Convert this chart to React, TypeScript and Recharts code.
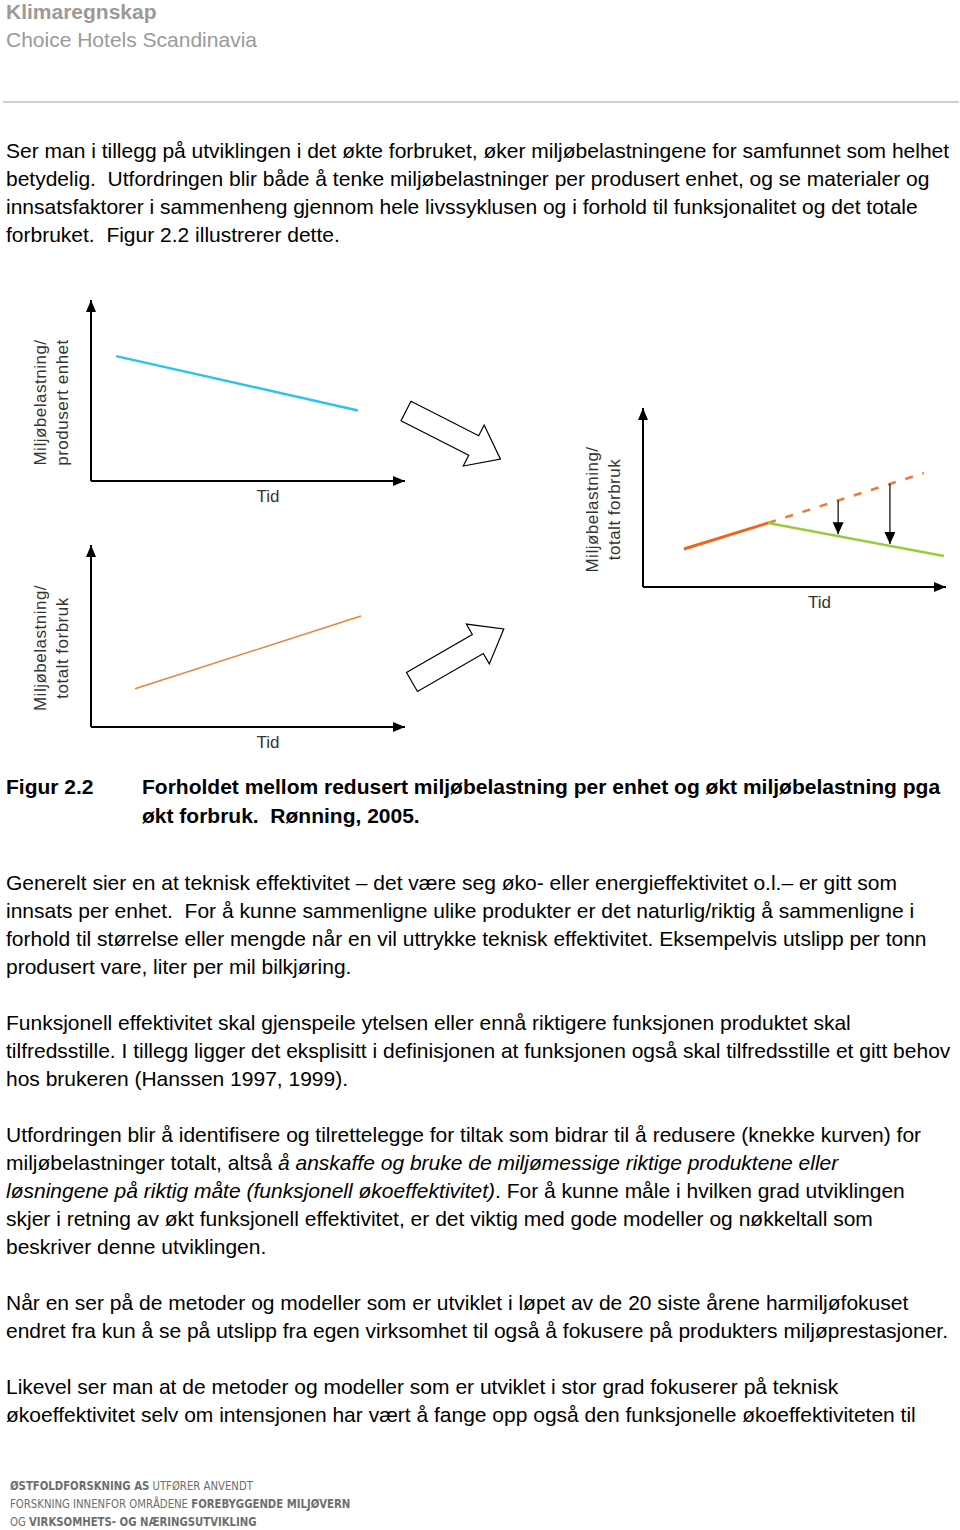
import React from 'react';
import { LineChart, Line, XAxis, YAxis, ReferenceLine } from 'recharts';

// chart 1: load per produced unit over time
const unitTime = [8, 85];
const unitLoad = [69, 39];

// chart 2: total load over time
const totalTime = [14, 86];
const totalLoad = [21, 61];

// chart 3: growth, break and reduced curve
const beforeTime = [13.5, 41.3];
const beforeLoad = [21.2, 35.8];
const afterTime = [41.3, 99.3];
const afterLoad = [35.8, 17.3];
const trendTime = [41.3, 92.7];
const trendLoad = [35.8, 63.7];
const gapTime = [64.4, 81.5];
const gapFrom = [48.3, 57.6];
const gapTo = [29.5, 24];

const toRows = (t: number[], v: number[]) => t.map((x, i) => ({ t: x, v: v[i] }));

const headerLines = ['Klimaregnskap', 'Choice Hotels Scandinavia'];

const introLines = [
  'Ser man i tillegg på utviklingen i det økte forbruket, øker miljøbelastningene for samfunnet som helhet',
  'betydelig.  Utfordringen blir både å tenke miljøbelastninger per produsert enhet, og se materialer og',
  'innsatsfaktorer i sammenheng gjennom hele livssyklusen og i forhold til funksjonalitet og det totale',
  'forbruket.  Figur 2.2 illustrerer dette.',
];

const para1 = [
  'Generelt sier en at teknisk effektivitet – det være seg øko- eller energieffektivitet o.l.– er gitt som',
  'innsats per enhet.  For å kunne sammenligne ulike produkter er det naturlig/riktig å sammenligne i',
  'forhold til størrelse eller mengde når en vil uttrykke teknisk effektivitet. Eksempelvis utslipp per tonn',
  'produsert vare, liter per mil bilkjøring.',
];
const para2 = [
  'Funksjonell effektivitet skal gjenspeile ytelsen eller ennå riktigere funksjonen produktet skal',
  'tilfredsstille. I tillegg ligger det eksplisitt i definisjonen at funksjonen også skal tilfredsstille et gitt behov',
  'hos brukeren (Hanssen 1997, 1999).',
];
const para4 = [
  'Når en ser på de metoder og modeller som er utviklet i løpet av de 20 siste årene harmiljøfokuset',
  'endret fra kun å se på utslipp fra egen virksomhet til også å fokusere på produkters miljøprestasjoner.',
];
const para5 = [
  'Likevel ser man at de metoder og modeller som er utviklet i stor grad fokuserer på teknisk',
  'økoeffektivitet selv om intensjonen har vært å fange opp også den funksjonelle økoeffektiviteten til',
];

const FONT = "'Liberation Sans', Arial, Helvetica, sans-serif";
const LABEL_FONT = "'Liberation Sans', Arial, sans-serif";

const TextLine = ({ top, left = 6, children, style }: any) => (
  <div
    style={{
      position: 'absolute',
      top,
      left,
      whiteSpace: 'pre',
      fontSize: 21,
      lineHeight: '28px',
      color: '#000',
      ...style,
    }}
  >
    {children}
  </div>
);

const yTitle = (lines: string[]) => (props: any) => {
  const vb = props.viewBox || { x: 0, y: 8, width: 70, height: 180 };
  const ax = vb.x + vb.width;
  const cy = vb.y + vb.height / 2 + 12;
  return (
    <g>
      {lines.map((s, i) => {
        const x = ax - 51 + i * 22;
        return (
          <text
            key={i}
            x={x}
            y={cy}
            transform={`rotate(-90 ${x} ${cy})`}
            textAnchor="middle"
            dominantBaseline="central"
            fontSize={17}
            fontFamily={LABEL_FONT}
            fill="#333"
            letterSpacing={0.5}
          >
            {s}
          </text>
        );
      })}
    </g>
  );
};

const axisStyle = { stroke: '#000', strokeWidth: 2 };

const MiniChart = ({ left, top, plotW, plotH, title, tidDx, children }: any) => (
  <div style={{ position: 'absolute', left, top }}>
    <LineChart
      width={70 + plotW + 8}
      height={8 + plotH + 30}
      margin={{ top: 8, right: 8, bottom: 0, left: 0 }}
    >
      <XAxis
        type="number"
        dataKey="t"
        domain={[0, 100]}
        allowDataOverflow
        height={30}
        tick={false}
        tickLine={false}
        axisLine={{ ...axisStyle, markerEnd: 'url(#axisHead)' }}
        label={{
          value: 'Tid',
          position: 'insideTop',
          offset: 9,
          dx: tidDx,
          fontSize: 17,
          fontFamily: LABEL_FONT,
          fill: '#333',
        }}
      />
      <YAxis
        type="number"
        domain={[0, 100]}
        allowDataOverflow
        width={70}
        tick={false}
        tickLine={false}
        axisLine={{ ...axisStyle, markerStart: 'url(#axisHead)' }}
        label={{ content: yTitle(title) }}
      />
      {children}
    </LineChart>
  </div>
);

// hollow block arrow, drawn pointing right then rotated
const BlockArrow = ({ x, y, angle }: any) => (
  <svg
    width={960}
    height={1530}
    style={{ position: 'absolute', left: 0, top: 0, pointerEvents: 'none' }}
  >
    <polygon
      transform={`translate(${x} ${y}) rotate(${angle})`}
      points="0,-11 76,-11 76,-23 106,0 76,23 76,11 0,11"
      fill="#fff"
      stroke="#000"
      strokeWidth={1.2}
      strokeLinejoin="miter"
    />
  </svg>
);

export default function App() {
  return (
    <div
      style={{
        position: 'absolute',
        left: 0,
        top: 0,
        width: 960,
        height: 1530,
        background: '#fff',
        fontFamily: FONT,
        overflow: 'hidden',
      }}
    >
      <svg width={0} height={0} style={{ position: 'absolute' }}>
        <defs>
          <marker
            id="axisHead"
            viewBox="0 0 12 10"
            refX={12}
            refY={5}
            markerWidth={12}
            markerHeight={10}
            markerUnits="userSpaceOnUse"
            orient="auto-start-reverse"
          >
            <path d="M0,0 L12,5 L0,10 z" fill="#000" />
          </marker>
          <marker
            id="dropHead"
            viewBox="0 0 12 13"
            refX={13}
            refY={6}
            markerWidth={13}
            markerHeight={12}
            markerUnits="userSpaceOnUse"
            orient="auto"
          >
            <path d="M0,0 L13,6 L0,12 z" fill="#000" />
          </marker>
        </defs>
      </svg>

      <TextLine top={-1} style={{ fontSize: 21, lineHeight: '26px', fontWeight: 700, color: '#9a9a9a' }}>
        {headerLines[0]}
      </TextLine>
      <TextLine top={27} style={{ fontSize: 21, lineHeight: '26px', color: '#9a9a9a' }}>
        {headerLines[1]}
      </TextLine>
      <div style={{ position: 'absolute', left: 3, top: 101, width: 956, height: 2, background: '#cfcfcf' }} />

      {introLines.map((s, i) => (
        <TextLine key={i} top={137 + i * 28}>{s}</TextLine>
      ))}

      <MiniChart left={21} top={292} plotW={314} plotH={181} title={['Miljøbelastning/', 'produsert enhet']} tidDx={20}>
        <Line
          data={toRows(unitTime, unitLoad)}
          dataKey="v"
          stroke="#2cc3ea"
          strokeWidth={2.5}
          dot={false}
          isAnimationActive={false}
        />
      </MiniChart>

      <MiniChart left={21} top={537} plotW={314} plotH={182} title={['Miljøbelastning/', 'totalt forbruk']} tidDx={20}>
        <Line
          data={toRows(totalTime, totalLoad)}
          dataKey="v"
          stroke="#e8843a"
          strokeWidth={1.5}
          dot={false}
          isAnimationActive={false}
        />
      </MiniChart>

      <MiniChart left={573} top={400} plotW={303} plotH={179} title={['Miljøbelastning/', 'totalt forbruk']} tidDx={25}>
        <Line
          data={toRows(trendTime, trendLoad)}
          dataKey="v"
          stroke="#ee7a35"
          strokeWidth={2.5}
          strokeDasharray="8 10"
          dot={false}
          isAnimationActive={false}
        />
        <Line
          data={toRows(afterTime, afterLoad)}
          dataKey="v"
          stroke="#9cca3c"
          strokeWidth={2.5}
          dot={false}
          isAnimationActive={false}
        />
        <Line
          data={toRows(beforeTime, beforeLoad)}
          dataKey="v"
          stroke="#f0641e"
          strokeWidth={3}
          dot={false}
          isAnimationActive={false}
        />
        {gapTime.map((t, i) => (
          <ReferenceLine
            key={i}
            segment={[
              { x: t, y: gapFrom[i] },
              { x: t, y: gapTo[i] },
            ]}
            stroke="#000"
            strokeWidth={1.2}
            markerEnd="url(#dropHead)"
          />
        ))}
      </MiniChart>

      <BlockArrow x={406} y={411} angle={27} />
      <BlockArrow x={412} y={682} angle={-30} />

      <TextLine top={773} style={{ fontWeight: 700 }}>Figur 2.2</TextLine>
      <TextLine top={773} left={142} style={{ fontWeight: 700 }}>
        Forholdet mellom redusert miljøbelastning per enhet og økt miljøbelastning pga
      </TextLine>
      <TextLine top={802} left={142} style={{ fontWeight: 700 }}>
        økt forbruk.  Rønning, 2005.
      </TextLine>

      {para1.map((s, i) => (
        <TextLine key={i} top={869 + i * 28}>{s}</TextLine>
      ))}
      {para2.map((s, i) => (
        <TextLine key={i} top={1009 + i * 28}>{s}</TextLine>
      ))}
      <TextLine top={1121}>
        Utfordringen blir å identifisere og tilrettelegge for tiltak som bidrar til å redusere (knekke kurven) for
      </TextLine>
      <TextLine top={1149}>
        miljøbelastninger totalt, altså <i>å anskaffe og bruke de miljømessige riktige produktene eller</i>
      </TextLine>
      <TextLine top={1177}>
        <i>løsningene på riktig måte (funksjonell økoeffektivitet)</i>. For å kunne måle i hvilken grad utviklingen
      </TextLine>
      <TextLine top={1205}>
        skjer i retning av økt funksjonell effektivitet, er det viktig med gode modeller og nøkkeltall som
      </TextLine>
      <TextLine top={1233}>beskriver denne utviklingen.</TextLine>
      {para4.map((s, i) => (
        <TextLine key={i} top={1289 + i * 28}>{s}</TextLine>
      ))}
      {para5.map((s, i) => (
        <TextLine key={i} top={1373 + i * 28}>{s}</TextLine>
      ))}

      <div
        style={{
          position: 'absolute',
          left: 10,
          top: 1477,
          fontFamily: "'Liberation Sans Narrow', 'DejaVu Sans Condensed', sans-serif",
          fontSize: 12.5,
          lineHeight: '18px',
          color: '#6e6e6e',
          whiteSpace: 'pre',
          transform: 'scaleX(0.9)',
          transformOrigin: 'left top',
        }}
      >
        <div><b>ØSTFOLDFORSKNING AS</b> UTFØRER ANVENDT</div>
        <div>FORSKNING INNENFOR OMRÅDENE <b>FOREBYGGENDE MILJØVERN</b></div>
        <div>OG <b>VIRKSOMHETS- OG NÆRINGSUTVIKLING</b></div>
      </div>
    </div>
  );
}
